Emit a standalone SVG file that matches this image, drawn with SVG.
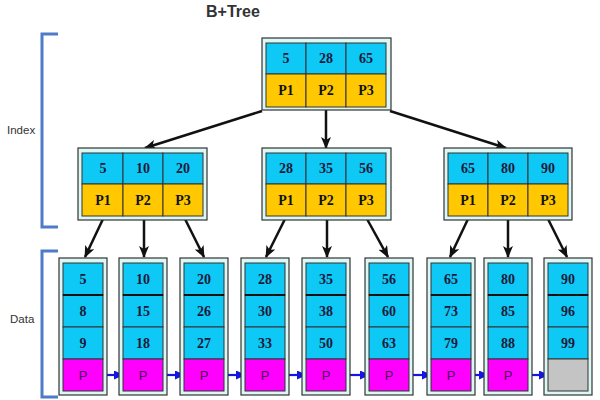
<svg xmlns="http://www.w3.org/2000/svg" width="600" height="400" viewBox="0 0 600 400">
<style>
.outer{fill:#DDF7F5;stroke:#333;stroke-width:1.2}
.k{fill:#0EC8F6;stroke:#333;stroke-width:1}
.p{fill:#FFC800;stroke:#333;stroke-width:1}
.m{fill:#FF00FF;stroke:#333;stroke-width:1}
.g{fill:#C4C4C4;stroke:#333;stroke-width:1}
.n{font-family:"Liberation Serif","Times New Roman",serif;font-weight:bold;font-size:14px;fill:#1A1A3A;text-anchor:middle}
.pp{font-family:"Liberation Serif","Times New Roman",serif;font-weight:bold;font-size:14px;fill:#111;text-anchor:middle}
.pl{font-family:"Liberation Sans",Arial,sans-serif;font-size:13px;fill:#4A1050;text-anchor:middle}
.lbl{font-family:"Liberation Sans",Arial,sans-serif;font-size:11.5px;fill:#333}
.br{fill:none;stroke:#4F7BC8;stroke-width:3}
.ca{stroke:#111;stroke-width:2.5;fill:none;marker-end:url(#ah)}
.la{stroke:#1515E0;stroke-width:2.2;fill:none;marker-end:url(#bh)}
.thick{stroke:#111;stroke-width:2}
</style>
<defs>
<marker id="ah" markerUnits="userSpaceOnUse" markerWidth="12" markerHeight="10" refX="11" refY="5" orient="auto"><path d="M0,0 L12,5 L0,10 L3,5 Z" fill="#111"/></marker>
<marker id="bh" markerUnits="userSpaceOnUse" markerWidth="10" markerHeight="9" refX="9" refY="4.5" orient="auto"><path d="M0,0 L10,4.5 L0,9 Z" fill="#1515E0"/></marker>
</defs>
<text x="206" y="17" style="font-family:'Liberation Sans',Arial,sans-serif;font-weight:bold;font-size:16px;fill:#333">B+Tree</text>
<g id="brackets">
<path class="br" d="M58,34 H42 V227 H58"/>
<path class="br" d="M58,251 H42 V397 H58"/>
<text class="lbl" x="7" y="134">Index</text>
<text class="lbl" x="10" y="323">Data</text>
</g>
<g id="connectors">
<line class="ca" x1="262" y1="111" x2="145" y2="148"/>
<line class="ca" x1="326" y1="110" x2="326" y2="148"/>
<line class="ca" x1="390" y1="111" x2="506" y2="148"/>
<line class="ca" x1="103" y1="219" x2="85" y2="257"/>
<line class="ca" x1="144" y1="219" x2="144" y2="257"/>
<line class="ca" x1="185" y1="219" x2="204" y2="257"/>
<line class="ca" x1="285" y1="219" x2="266" y2="257"/>
<line class="ca" x1="327" y1="219" x2="327" y2="257"/>
<line class="ca" x1="367" y1="219" x2="388" y2="257"/>
<line class="ca" x1="468" y1="219" x2="450" y2="257"/>
<line class="ca" x1="508" y1="219" x2="508" y2="257"/>
<line class="ca" x1="548" y1="219" x2="567" y2="257"/>
<line class="la" x1="103" y1="375" x2="123" y2="375"/>
<line class="la" x1="163" y1="375" x2="184" y2="375"/>
<line class="la" x1="224" y1="375" x2="245" y2="375"/>
<line class="la" x1="285" y1="375" x2="306" y2="375"/>
<line class="la" x1="346" y1="375" x2="369" y2="375"/>
<line class="la" x1="409" y1="375" x2="431" y2="375"/>
<line class="la" x1="471" y1="375" x2="488" y2="375"/>
<line class="la" x1="528" y1="375" x2="548" y2="375"/>
</g>
<g id="root">
<rect class="outer" x="262" y="38" width="129" height="72"/>
<rect class="k" x="266" y="43" width="40" height="31"/><rect class="k" x="306" y="43" width="40" height="31"/><rect class="k" x="346" y="43" width="40" height="31"/>
<rect class="p" x="266" y="74" width="40" height="33"/><rect class="p" x="306" y="74" width="40" height="33"/><rect class="p" x="346" y="74" width="40" height="33"/>
<text class="n" x="286" y="63">5</text><text class="n" x="326" y="63">28</text><text class="n" x="366" y="63">65</text>
<text class="pp" x="286" y="95">P1</text><text class="pp" x="326" y="95">P2</text><text class="pp" x="366" y="95">P3</text>
</g>
<g id="inner1">
<rect class="outer" x="78" y="148" width="129" height="72"/>
<rect class="k" x="82" y="153" width="41" height="31"/><rect class="k" x="123" y="153" width="40" height="31"/><rect class="k" x="163" y="153" width="40" height="31"/>
<rect class="p" x="82" y="184" width="41" height="32"/><rect class="p" x="123" y="184" width="40" height="32"/><rect class="p" x="163" y="184" width="40" height="32"/>
<text class="n" x="103" y="173">5</text><text class="n" x="143" y="173">10</text><text class="n" x="183" y="173">20</text>
<text class="pp" x="103" y="205">P1</text><text class="pp" x="143" y="205">P2</text><text class="pp" x="183" y="205">P3</text>
</g>
<g id="inner2">
<rect class="outer" x="262" y="148" width="129" height="72"/>
<rect class="k" x="266" y="153" width="40" height="31"/><rect class="k" x="306" y="153" width="40" height="31"/><rect class="k" x="346" y="153" width="40" height="31"/>
<rect class="p" x="266" y="184" width="40" height="32"/><rect class="p" x="306" y="184" width="40" height="32"/><rect class="p" x="346" y="184" width="40" height="32"/>
<text class="n" x="286" y="173">28</text><text class="n" x="326" y="173">35</text><text class="n" x="366" y="173">56</text>
<text class="pp" x="286" y="205">P1</text><text class="pp" x="326" y="205">P2</text><text class="pp" x="366" y="205">P3</text>
</g>
<g id="inner3">
<rect class="outer" x="444" y="148" width="128" height="72"/>
<rect class="k" x="448" y="153" width="40" height="31"/><rect class="k" x="488" y="153" width="40" height="31"/><rect class="k" x="528" y="153" width="40" height="31"/>
<rect class="p" x="448" y="184" width="40" height="32"/><rect class="p" x="488" y="184" width="40" height="32"/><rect class="p" x="528" y="184" width="40" height="32"/>
<text class="n" x="468" y="173">65</text><text class="n" x="508" y="173">80</text><text class="n" x="548" y="173">90</text>
<text class="pp" x="468" y="205">P1</text><text class="pp" x="508" y="205">P2</text><text class="pp" x="548" y="205">P3</text>
</g>
<g id="leaf1" transform="translate(59,0)">
<rect class="outer" x="0" y="258" width="48" height="137"/>
<rect class="k" x="4" y="263" width="40" height="32"/><rect class="k" x="4" y="295" width="40" height="32"/><rect class="k" x="4" y="327" width="40" height="32"/><rect class="m" x="4" y="359" width="40" height="32"/>
<line class="thick" x1="4" y1="295" x2="44" y2="295"/>
<text class="n" x="24" y="284">5</text><text class="n" x="24" y="316">8</text><text class="n" x="24" y="348">9</text><text class="pl" x="24" y="380">P</text>
</g>
<g id="leaf2" transform="translate(119,0)">
<rect class="outer" x="0" y="258" width="48" height="137"/>
<rect class="k" x="4" y="263" width="40" height="32"/><rect class="k" x="4" y="295" width="40" height="32"/><rect class="k" x="4" y="327" width="40" height="32"/><rect class="m" x="4" y="359" width="40" height="32"/>
<line class="thick" x1="4" y1="295" x2="44" y2="295"/>
<text class="n" x="24" y="284">10</text><text class="n" x="24" y="316">15</text><text class="n" x="24" y="348">18</text><text class="pl" x="24" y="380">P</text>
</g>
<g id="leaf3" transform="translate(180,0)">
<rect class="outer" x="0" y="258" width="48" height="137"/>
<rect class="k" x="4" y="263" width="40" height="32"/><rect class="k" x="4" y="295" width="40" height="32"/><rect class="k" x="4" y="327" width="40" height="32"/><rect class="m" x="4" y="359" width="40" height="32"/>
<line class="thick" x1="4" y1="295" x2="44" y2="295"/>
<text class="n" x="24" y="284">20</text><text class="n" x="24" y="316">26</text><text class="n" x="24" y="348">27</text><text class="pl" x="24" y="380">P</text>
</g>
<g id="leaf4" transform="translate(241,0)">
<rect class="outer" x="0" y="258" width="48" height="137"/>
<rect class="k" x="4" y="263" width="40" height="32"/><rect class="k" x="4" y="295" width="40" height="32"/><rect class="k" x="4" y="327" width="40" height="32"/><rect class="m" x="4" y="359" width="40" height="32"/>
<line class="thick" x1="4" y1="295" x2="44" y2="295"/>
<text class="n" x="24" y="284">28</text><text class="n" x="24" y="316">30</text><text class="n" x="24" y="348">33</text><text class="pl" x="24" y="380">P</text>
</g>
<g id="leaf5" transform="translate(302,0)">
<rect class="outer" x="0" y="258" width="48" height="137"/>
<rect class="k" x="4" y="263" width="40" height="32"/><rect class="k" x="4" y="295" width="40" height="32"/><rect class="k" x="4" y="327" width="40" height="32"/><rect class="m" x="4" y="359" width="40" height="32"/>
<line class="thick" x1="4" y1="295" x2="44" y2="295"/>
<text class="n" x="24" y="284">35</text><text class="n" x="24" y="316">38</text><text class="n" x="24" y="348">50</text><text class="pl" x="24" y="380">P</text>
</g>
<g id="leaf6" transform="translate(365,0)">
<rect class="outer" x="0" y="258" width="48" height="137"/>
<rect class="k" x="4" y="263" width="40" height="32"/><rect class="k" x="4" y="295" width="40" height="32"/><rect class="k" x="4" y="327" width="40" height="32"/><rect class="m" x="4" y="359" width="40" height="32"/>
<line class="thick" x1="4" y1="295" x2="44" y2="295"/>
<text class="n" x="24" y="284">56</text><text class="n" x="24" y="316">60</text><text class="n" x="24" y="348">63</text><text class="pl" x="24" y="380">P</text>
</g>
<g id="leaf7" transform="translate(427,0)">
<rect class="outer" x="0" y="258" width="48" height="137"/>
<rect class="k" x="4" y="263" width="40" height="32"/><rect class="k" x="4" y="295" width="40" height="32"/><rect class="k" x="4" y="327" width="40" height="32"/><rect class="m" x="4" y="359" width="40" height="32"/>
<line class="thick" x1="4" y1="295" x2="44" y2="295"/>
<text class="n" x="24" y="284">65</text><text class="n" x="24" y="316">73</text><text class="n" x="24" y="348">79</text><text class="pl" x="24" y="380">P</text>
</g>
<g id="leaf8" transform="translate(484,0)">
<rect class="outer" x="0" y="258" width="48" height="137"/>
<rect class="k" x="4" y="263" width="40" height="32"/><rect class="k" x="4" y="295" width="40" height="32"/><rect class="k" x="4" y="327" width="40" height="32"/><rect class="m" x="4" y="359" width="40" height="32"/>
<line class="thick" x1="4" y1="295" x2="44" y2="295"/>
<text class="n" x="24" y="284">80</text><text class="n" x="24" y="316">85</text><text class="n" x="24" y="348">88</text><text class="pl" x="24" y="380">P</text>
</g>
<g id="leaf9" transform="translate(544,0)">
<rect class="outer" x="0" y="258" width="48" height="137"/>
<rect class="k" x="4" y="263" width="40" height="32"/><rect class="k" x="4" y="295" width="40" height="32"/><rect class="k" x="4" y="327" width="40" height="32"/><rect class="g" x="4" y="359" width="40" height="32"/>
<line class="thick" x1="4" y1="295" x2="44" y2="295"/>
<text class="n" x="24" y="284">90</text><text class="n" x="24" y="316">96</text><text class="n" x="24" y="348">99</text>
</g>
</svg>
